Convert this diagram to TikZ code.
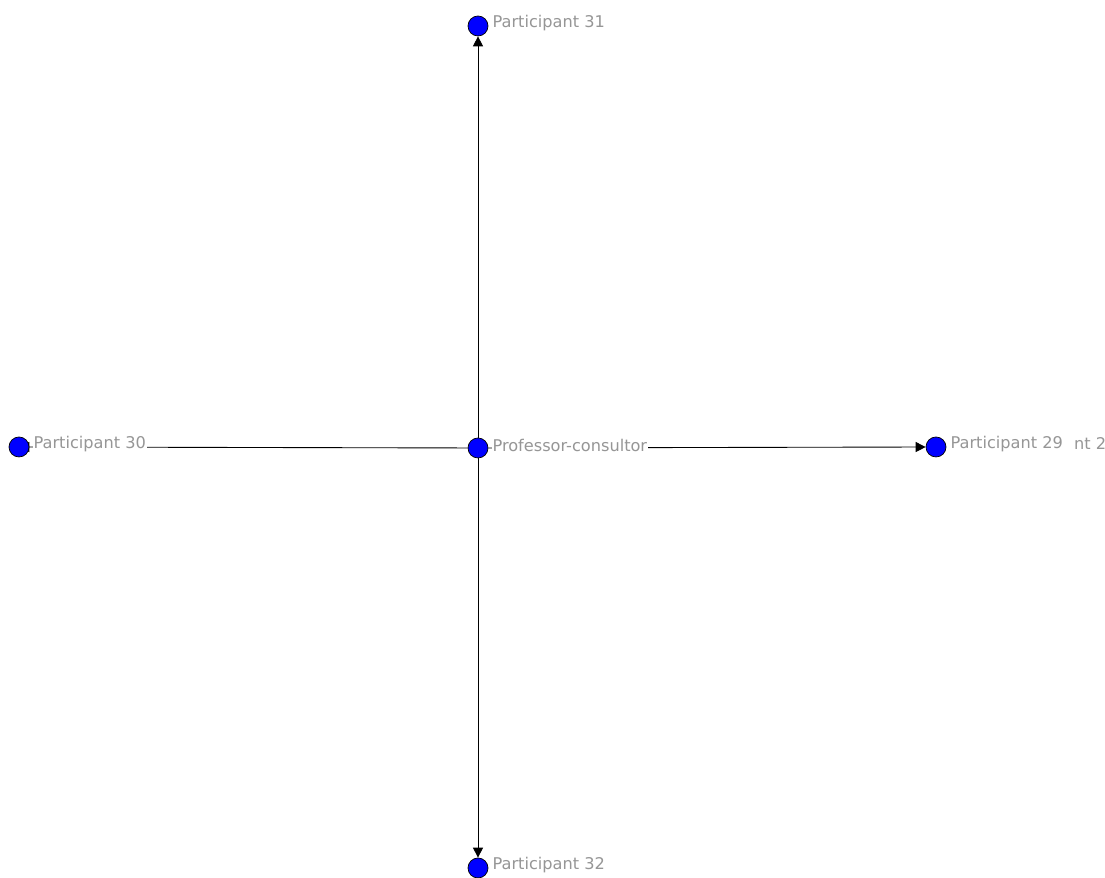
\documentclass[tikz,border=0pt]{standalone}
\usepackage{fontspec}
\setmainfont{DejaVu Sans}
\usepackage{tikz}
\usetikzlibrary{arrows.meta, positioning, backgrounds}
\definecolor{nodeblue}{RGB}{0,0,255}
\definecolor{labelgray}{RGB}{150,150,150}

\begin{document}
\begin{tikzpicture}[
  actor/.style={circle, draw=black, line width=0.4pt, fill=nodeblue,
    minimum size=0.4cm, inner sep=0pt},
  lbl/.style={fill=white, inner sep=0.5pt, text=labelgray,
    font=\fontsize{9.2}{11}\selectfont, yshift=0.06cm},
  arr/.style={-{Triangle[length=2mm, width=2mm]}, line width=0.5pt, black}
]
  \useasboundingbox (0,0) rectangle (22.1,17.56);

  %% actors
  \node[actor] (prof) at (9.56,8.60)  {};
  \node[actor] (p31)  at (9.56,17.04) {};
  \node[actor] (p30)  at (0.38,8.62)  {};
  \node[actor] (p29)  at (18.72,8.62) {};
  \node[actor] (p32)  at (9.56,0.20)  {};

  %% ties
  \begin{scope}[on background layer]
    \draw[arr] (prof) -- (p31);
    \draw[arr] (prof) -- (p29);
    \draw[arr] (prof) -- (p32);
    \draw[arr, shorten >=-2mm] (prof) -- (p30);
  \end{scope}

  %% names
  \node[lbl, right=0.06cm of prof] (lprof) {Professor-consultor};
  \node[lbl, right=0.06cm of p31]  (l31)   {Participant 31};
  \node[lbl, right=0.06cm of p30]  (l30)   {Participant 30};
  \node[lbl, right=0.06cm of p29]  (l29)   {Participant 29};
  \node[lbl, right=0.06cm of p32]  (l32)   {Participant 32};
  \node[lbl, anchor=west] (lcut) at (21.46,8.62) {nt 2};
\end{tikzpicture}
\end{document}
